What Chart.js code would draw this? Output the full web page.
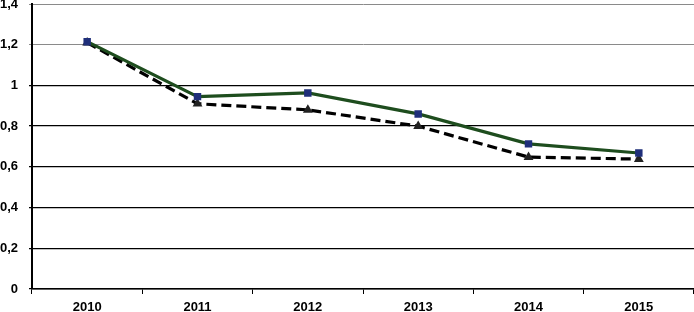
<!DOCTYPE html>
<html>
<head>
<meta charset="utf-8">
<script src="https://cdn.jsdelivr.net/npm/chart.js@4"></script>
<style>
  html, body { margin: 0; padding: 0; background: #fff; }
  #wrap { width: 694px; height: 312px; }
</style>
</head>
<body>
<div id="wrap"><canvas id="chart" width="694" height="312"></canvas></div>
<script>
const years = ["2010", "2011", "2012", "2013", "2014", "2015"];
const solidValues = [1.215, 0.945, 0.963, 0.86, 0.713, 0.668];
const dashedValues = [1.21, 0.91, 0.88, 0.80, 0.648, 0.638];
const yTicks = [0, 0.2, 0.4, 0.6, 0.8, 1, 1.2, 1.4];

const labelFont = { family: "Liberation Sans", weight: "bold", size: 13 };

const ctx = document.getElementById("chart").getContext("2d");
new Chart(ctx, {
  type: "line",
  data: {
    labels: years,
    datasets: [
      {
        data: solidValues,
        borderColor: "#1e4d1e",
        borderWidth: 3.2,
        pointStyle: "rect",
        pointRadius: 3,
        pointBackgroundColor: "#1f2f7a",
        pointBorderColor: "#1f2f7a",
        tension: 0,
      },
      {
        data: dashedValues,
        borderColor: "#000",
        borderWidth: 3.2,
        borderDash: [10, 5],
        pointStyle: "triangle",
        pointRadius: 2.5,
        pointBackgroundColor: "#222",
        pointBorderColor: "#222",
        tension: 0,
      },
    ],
  },
  options: {
    responsive: false,
    animation: false,
    layout: { autoPadding: false, padding: { top: 4, right: 0, left: 0, bottom: 0 } },
    plugins: { legend: { display: false }, tooltip: { enabled: false } },
    scales: {
      x: {
        offset: true,
        grid: { offset: true, drawOnChartArea: false, tickLength: 5, color: "#000" },
        border: { color: "#000", width: 1.5 },
        ticks: { color: "#000", font: labelFont, padding: 6, maxRotation: 0 },
        afterFit: (s) => {
          s.height = 23;
          s.paddingLeft = 0;
          s.paddingRight = 0;
        },
      },
      y: {
        min: 0,
        max: 1.4,
        afterBuildTicks: (s) => { s.ticks = yTicks.map((v) => ({ value: v })); },
        grid: {
          color: (c) => (c.tick && c.tick.value > 1.1 ? "#8a8a8a" : "#000"),
          lineWidth: (c) => (c.tick && c.tick.value > 1.1 ? 1 : 1.3),
          tickLength: 3,
        },
        border: { color: "#000", width: 2 },
        ticks: {
          color: "#000",
          font: labelFont,
          padding: 11,
          callback: (v) => String(v).replace(".", ","),
        },
        afterFit: (s) => {
          s.width = 32;
          s.paddingTop = 0;
          s.paddingBottom = 0;
        },
      },
    },
  },
});
</script>
</body>
</html>
